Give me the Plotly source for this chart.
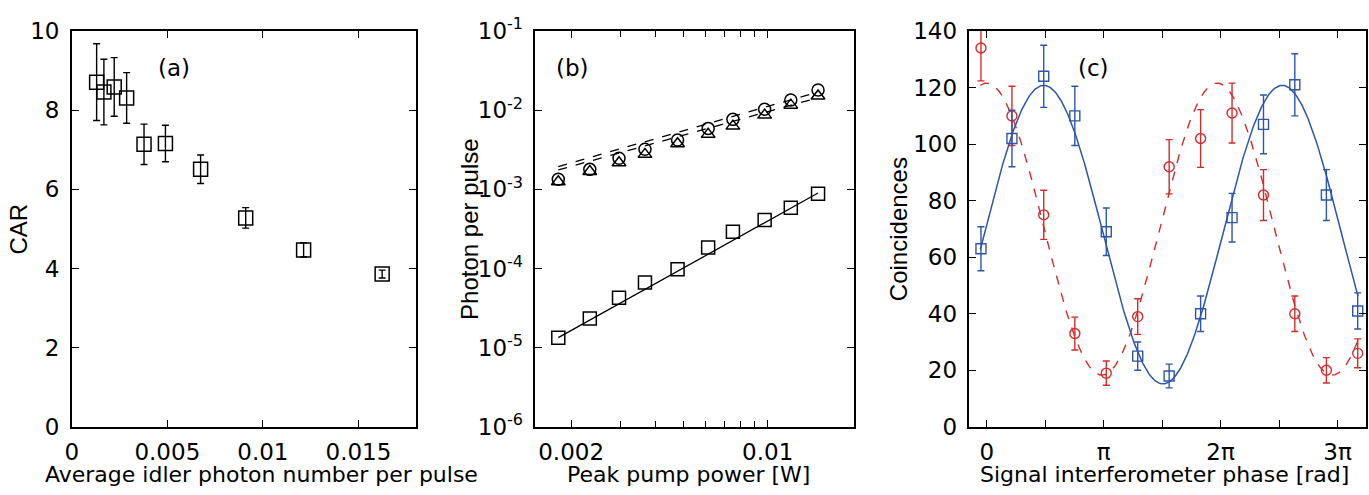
import numpy as np
import plotly.graph_objects as go

# ---------------- data ----------------
# (a) CAR vs average idler photon number per pulse
a_x = [0.0013, 0.00168, 0.00222, 0.00287, 0.00378, 0.0049, 0.00674, 0.0091, 0.01213, 0.01624]
a_y = [8.71, 8.46, 8.59, 8.31, 7.14, 7.16, 6.51, 5.28, 4.47, 3.86]
a_err = [0.97, 0.83, 0.74, 0.64, 0.51, 0.46, 0.36, 0.26, 0.18, 0.10]

# (b) photon per pulse vs peak pump power
b_power = [0.0018, 0.00233, 0.00296, 0.00366, 0.00478, 0.00614, 0.00752, 0.00975, 0.01208, 0.0151]
b_square = [1.34e-5, 2.33e-5, 4.29e-5, 6.64e-5, 9.8e-5, 1.84e-4, 2.92e-4, 4.11e-4, 5.87e-4, 8.83e-4]
b_circle = [1.34e-3, 1.79e-3, 2.47e-3, 3.21e-3, 4.21e-3, 5.9e-3, 7.67e-3, 1.03e-2, 1.35e-2, 1.80e-2]
b_triangle = [1.25e-3, 1.68e-3, 2.17e-3, 2.77e-3, 3.78e-3, 4.96e-3, 6.3e-3, 8.68e-3, 1.16e-2, 1.51e-2]
# fitted power-law lines (end points)
b_fit_power = [0.0018, 0.0151]
b_fit_square = [1.34e-5, 9.0e-4]
b_fit_circle = [1.94e-3, 1.70e-2]
b_fit_triangle = [1.76e-3, 1.44e-2]

# (c) coincidences vs signal interferometer phase (in units of pi)
c_phase = [-0.05, 0.215, 0.487, 0.753, 1.022, 1.291, 1.56, 1.829, 2.098, 2.367, 2.635, 2.905, 3.173]
c_blue = [63, 102, 124, 110, 69, 25, 18, 40, 74, 107, 121, 82, 41]
c_blue_err = [7.8, 10.0, 11.0, 10.5, 8.4, 5.0, 4.2, 6.3, 8.6, 10.4, 11.0, 9.0, 6.4]
c_red = [134, 110, 75, 33, 19, 39, 92, 102, 111, 82, 40, 20, 26]
c_red_err = [11.6, 10.5, 8.7, 5.8, 4.3, 6.3, 9.6, 10.2, 10.6, 9.0, 6.3, 4.5, 5.1]
# sinusoidal fit parameters: offset, amplitude, period (pi units), phase of maximum (pi units)
blue_fit = dict(offset=68.0, amp=52.8, period=2.04, peak=0.487)
red_fit = dict(offset=69.95, amp=51.65, period=1.97, peak=0.0)

# tick labels
a_xticks = [0, 0.005, 0.01, 0.015]
a_xticktext = ["0", "0.005", "0.01", "0.015"]
b_xticks = [0.002, 0.01]
b_xticktext = ["0.002", "0.01"]
b_xminor = [0.003, 0.004, 0.005, 0.006, 0.007, 0.008, 0.009]
b_yticks = [1e-6, 1e-5, 1e-4, 1e-3, 1e-2, 1e-1]
b_yticktext = ["10<sup>-6</sup>", "10<sup>-5</sup>", "10<sup>-4</sup>", "10<sup>-3</sup>", "10<sup>-2</sup>", "10<sup>-1</sup>"]
c_xticks = [0, 1, 2, 3]
c_xticktext = ["0", "π", "2π", "3π"]
c_xminor = [0.5, 1.5, 2.5]

BLUE = "#2C55AE"
RED = "#D42B2B"
FONT = "DejaVu Sans"
FONT_V = "Liberation Sans"
W, H = 1369, 495


def ypix(y_img):
    # page row that lands on a given row of the final picture
    return (y_img - 15.9) / 0.940


def xpix(x_img):
    return (x_img - 6.4) / 0.992


fig = go.Figure()

# ---- (a)
fig.add_trace(go.Scatter(
    x=a_x, y=a_y, mode="markers", xaxis="x", yaxis="y",
    marker=dict(symbol="square-open", size=14, color="black", line=dict(width=1.5)),
    error_y=dict(type="data", array=a_err, color="black", thickness=1.4, width=3.5),
    showlegend=False))

# ---- (b)
for fy, dash in [(b_fit_circle, "dash"), (b_fit_triangle, "dash"), (b_fit_square, "solid")]:
    fig.add_trace(go.Scatter(x=b_fit_power, y=fy, mode="lines", xaxis="x2", yaxis="y2",
                             line=dict(color="black", width=1.3, dash=dash), showlegend=False))
fig.add_trace(go.Scatter(x=b_power, y=b_square, mode="markers", xaxis="x2", yaxis="y2",
                         marker=dict(symbol="square-open", size=13, color="black", line=dict(width=1.5)),
                         showlegend=False))
fig.add_trace(go.Scatter(x=b_power, y=b_circle, mode="markers", xaxis="x2", yaxis="y2",
                         marker=dict(symbol="circle-open", size=12, color="black", line=dict(width=1.5)),
                         showlegend=False))
fig.add_trace(go.Scatter(x=b_power, y=b_triangle, mode="markers", xaxis="x2", yaxis="y2",
                         marker=dict(symbol="triangle-up-open", size=12, color="black", line=dict(width=1.5)),
                         showlegend=False))

# ---- (c)
xs = np.linspace(c_phase[0] - 0.005, c_phase[-1] + 0.002, 400)
blue_curve = blue_fit["offset"] + blue_fit["amp"] * np.cos(2 * np.pi * (xs - blue_fit["peak"]) / blue_fit["period"])
red_curve = red_fit["offset"] + red_fit["amp"] * np.cos(2 * np.pi * (xs - red_fit["peak"]) / red_fit["period"])
fig.add_trace(go.Scatter(x=xs, y=red_curve, mode="lines", xaxis="x3", yaxis="y3",
                         line=dict(color=RED, width=1.4, dash="dash"), showlegend=False))
fig.add_trace(go.Scatter(x=xs, y=blue_curve, mode="lines", xaxis="x3", yaxis="y3",
                         line=dict(color=BLUE, width=1.5), showlegend=False))
fig.add_trace(go.Scatter(x=c_phase, y=c_red, mode="markers", xaxis="x3", yaxis="y3",
                         marker=dict(symbol="circle-open", size=10, color=RED, line=dict(width=1.4)),
                         error_y=dict(type="data", array=c_red_err, color=RED, thickness=1.4, width=3.5),
                         showlegend=False))
fig.add_trace(go.Scatter(x=c_phase, y=c_blue, mode="markers", xaxis="x3", yaxis="y3",
                         marker=dict(symbol="square-open", size=10, color=BLUE, line=dict(width=1.4)),
                         error_y=dict(type="data", array=c_blue_err, color=BLUE, thickness=1.4, width=3.5),
                         showlegend=False))

ydom = [1 - ypix(426) / H, 1 - ypix(30) / H]
common = dict(showline=True, linecolor="black", linewidth=1.5, mirror="ticks", ticks="inside",
              ticklen=7, tickwidth=1.3, tickcolor="black", showgrid=False, zeroline=False,
              tickfont=dict(family=FONT, size=23, color="black"))
minor_style = dict(ticks="inside", ticklen=6, tickwidth=1.2, tickcolor="black", showgrid=False)

fig.update_layout(
    width=W, height=H, margin=dict(l=0, r=0, t=0, b=0), autosize=False,
    paper_bgcolor="white", plot_bgcolor="white",
    font=dict(family=FONT, size=23, color="black"),
    xaxis=dict(domain=[xpix(71) / W, xpix(414) / W], range=[0, 0.018], tickmode="array",
               tickvals=a_xticks, ticktext=a_xticktext, anchor="y", ticklabelstandoff=4, **common),
    yaxis=dict(domain=ydom, range=[0, 10], tickmode="array", tickvals=[0, 2, 4, 6, 8, 10],
               anchor="x", ticklabelstandoff=6, **common),
    xaxis2=dict(domain=[xpix(533.3) / W, xpix(851) / W], type="log", range=[-2.826, -1.693],
                tickmode="array", tickvals=b_xticks, ticktext=b_xticktext, anchor="y2",
                ticklabelstandoff=4,
                minor=dict(tickmode="array", tickvals=b_xminor, **minor_style), **common),
    yaxis2=dict(domain=ydom, type="log", range=[-6, -1], tickmode="array", tickvals=b_yticks,
                ticktext=b_yticktext, anchor="x2", ticklabelstandoff=6, **common),
    xaxis3=dict(domain=[xpix(966) / W, min(xpix(1361) / W, 0.999)], range=[-0.149, 3.24],
                tickmode="array", tickvals=c_xticks, ticktext=c_xticktext, anchor="y3",
                ticklabelstandoff=4,
                minor=dict(tickmode="array", tickvals=c_xminor, ticklen=7, ticks="inside",
                           tickwidth=1.3, tickcolor="black", showgrid=False), **common),
    yaxis3=dict(domain=ydom, range=[0, 140], tickmode="array", tickvals=list(range(0, 141, 20)),
                anchor="x3", ticklabelstandoff=6, **common),
)

ann = []
def add_text(x_img, y_img, text, angle=0, size=23, family=FONT):
    ann.append(dict(x=xpix(x_img) / W, y=1 - ypix(y_img) / H, xref="paper", yref="paper", text=text,
                    showarrow=False, textangle=angle, xanchor="center", yanchor="middle",
                    font=dict(family=family, size=size, color="black")))

add_text(173, 67, "(a)")
add_text(570, 67, "(b)")
add_text(1090, 67, "(c)")
add_text(260, 473.5, "Average idler photon number per pulse", size=22)
add_text(686, 473.5, "Peak pump power [W]", size=22)
add_text(1161, 473.5, "Signal interferometer phase [rad]", size=22)
add_text(18, 228, "CAR", angle=-90, size=24, family=FONT_V)
add_text(468, 228, "Photon per pulse", angle=-90, size=24, family=FONT_V)
add_text(896, 228, "Coincidences", angle=-90, size=24, family=FONT_V)
fig.update_layout(annotations=ann)

fig.write_html("out.html", config={"displayModeBar": False},
               post_script="document.body.style.margin='0px';document.body.style.overflow='hidden';")
